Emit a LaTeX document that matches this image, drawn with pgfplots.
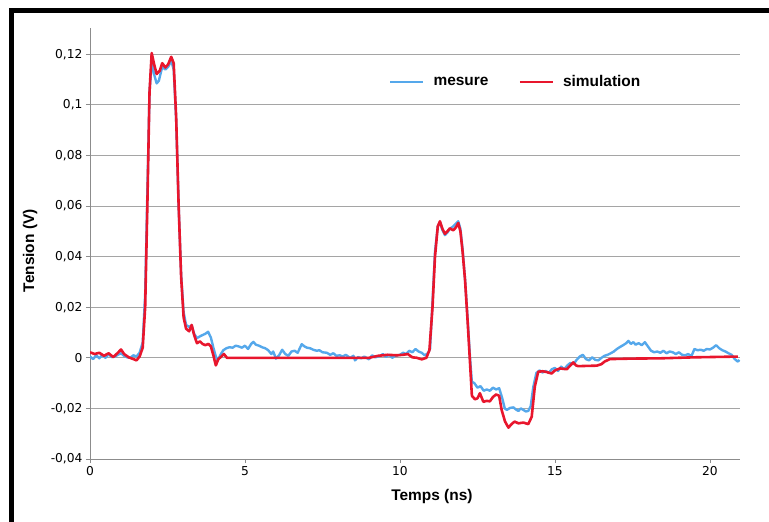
\documentclass[border=0pt]{standalone}
\usepackage{fontspec}
\setmainfont{Liberation Sans}
\newfontfamily\tickfont{DejaVu Sans}
\usepackage{pgfplots}
\pgfplotsset{compat=1.18}

\definecolor{mesblue}{RGB}{85,168,235}
\definecolor{simred}{RGB}{232,22,45}
\definecolor{axgray}{RGB}{140,140,140}
\definecolor{gridgray}{RGB}{165,165,165}

\begin{document}
\begin{tikzpicture}
\begin{axis}[
  at={(90bp,63bp)}, anchor=south west,
  width=650bp, height=431bp, scale only axis,
  xmin=0, xmax=20.97, ymin=-0.04, ymax=0.1304,
  axis lines=left,
  axis line style={axgray, line width=0.8bp, -},
  xtick={0,5,10,15,20},
  ytick={-0.04,-0.02,0,0.02,0.04,0.06,0.08,0.1,0.12},
  tick align=outside, major tick length=4bp,
  tick style={axgray, line width=0.8bp},
  ymajorgrids, grid style={gridgray, line width=0.8bp},
  /pgf/number format/assume math mode=true,
  yticklabel style={/pgf/number format/.cd, use comma, fixed, precision=2},
  ticklabel style={font=\tickfont\fontsize{12.3}{12.3}\selectfont, text=black},
  xlabel={\bfseries Temps (ns)},
  ylabel={\bfseries Tension (V)},
  label style={font=\fontsize{15.5}{16}\selectfont},
  xlabel style={at={(axis description cs:0.526,-0.086)}, anchor=center},
  ylabel style={at={(axis description cs:-0.092,0.483)}, anchor=center},
  legend columns=2,
  legend style={draw=none, fill=none, at={(axis description cs:0.655,0.875)}, anchor=center,
    font=\bfseries\fontsize{15.5}{16}\selectfont,
    /tikz/every even column/.append style={column sep=28bp}},
  legend image code/.code={\draw[#1] (0bp,0bp) -- (33bp,0bp); \path (40bp,0bp);},
]
\addplot[mesblue, line width=2.4bp, line join=round] coordinates {
(0,0.0005) (0.1,-0.0005) (0.2,0.0010) (0.3,-0.0002) (0.4,0.0012) (0.5,0.0000)
(0.6,0.0015) (0.7,0.0003) (0.8,0.0005) (0.9,0.0012) (1.0,0.0018) (1.1,0.0008)
(1.2,0.0002) (1.3,0.0000) (1.4,0.0010) (1.5,0.0005) (1.6,0.0020) (1.7,0.0060)
(1.78,0.025) (1.85,0.065) (1.92,0.105) (1.99,0.117) (2.07,0.112) (2.15,0.1085)
(2.22,0.1095) (2.33,0.1150) (2.43,0.1140) (2.52,0.1150) (2.62,0.1175) (2.70,0.1140)
(2.78,0.094) (2.86,0.06) (2.94,0.033) (3.02,0.018) (3.1,0.0130) (3.2,0.0122)
(3.28,0.0128) (3.36,0.0095) (3.45,0.0078) (3.55,0.0085) (3.63,0.0090) (3.72,0.0095)
(3.81,0.0103) (3.9,0.0080) (3.98,0.0040) (4.06,0.0005) (4.12,-0.0010) (4.2,0.0010)
(4.3,0.0030) (4.4,0.0038) (4.5,0.0042) (4.6,0.0040) (4.7,0.0048) (4.8,0.0045)
(4.9,0.0040) (5.0,0.0048) (5.1,0.0035) (5.2,0.0055) (5.27,0.0063) (5.35,0.0052)
(5.45,0.0048) (5.55,0.0042) (5.65,0.0038) (5.75,0.0030) (5.85,0.0015) (5.91,0.0025)
(6.0,-0.0003) (6.1,0.0010) (6.2,0.0032) (6.3,0.0015) (6.4,0.0008) (6.5,0.0025)
(6.6,0.0028) (6.7,0.0020) (6.83,0.0054) (6.92,0.0045) (7.0,0.0040) (7.1,0.0038)
(7.2,0.0032) (7.31,0.0028) (7.4,0.0030) (7.5,0.0022) (7.64,0.0020) (7.75,0.0012)
(7.85,0.0018) (7.95,0.0008) (8.06,0.0010) (8.15,0.0005) (8.25,0.0012) (8.39,0.0000)
(8.5,0.0008) (8.55,-0.0010) (8.65,0.0003) (8.75,-0.0002) (8.85,0.0005) (8.92,0.0000)
(9.0,-0.0006) (9.1,0.0010) (9.2,0.0002) (9.35,0.0007) (9.45,0.0015) (9.55,0.0004)
(9.65,0.0012) (9.75,0.0000) (9.85,0.0008) (10.0,0.0012) (10.1,0.0020) (10.2,0.0015)
(10.3,0.0028) (10.4,0.0022) (10.5,0.0035) (10.6,0.0025) (10.7,0.0020) (10.8,0.0010)
(10.9,0.0018) (10.97,0.0035) (11.05,0.022) (11.13,0.042) (11.22,0.052) (11.29,0.0535)
(11.37,0.0505) (11.45,0.0485) (11.53,0.0495) (11.61,0.0510) (11.72,0.0520) (11.80,0.0530)
(11.88,0.0540) (11.95,0.051) (12.02,0.043) (12.1,0.031) (12.18,0.016) (12.26,0.000)
(12.32,-0.0095) (12.4,-0.0100) (12.5,-0.0118) (12.6,-0.0112) (12.7,-0.0130) (12.8,-0.0125)
(12.9,-0.0130) (13.0,-0.0118) (13.1,-0.0125) (13.2,-0.0120) (13.3,-0.0160) (13.38,-0.0200)
(13.45,-0.0206) (13.55,-0.0198) (13.66,-0.0196) (13.75,-0.0205) (13.82,-0.0210) (13.9,-0.0200)
(13.98,-0.0206) (14.06,-0.0212) (14.14,-0.0210) (14.22,-0.0190) (14.3,-0.0116) (14.4,-0.0060)
(14.5,-0.0050) (14.6,-0.0058) (14.7,-0.0052) (14.8,-0.0060) (14.9,-0.0045) (15.0,-0.0040)
(15.1,-0.0052) (15.2,-0.0035) (15.3,-0.0045) (15.4,-0.0030) (15.5,-0.0020) (15.6,-0.0025)
(15.7,-0.0008) (15.8,0.0005) (15.9,0.0012) (16.0,-0.0005) (16.1,-0.0010) (16.2,0.0002)
(16.3,-0.0008) (16.4,-0.0010) (16.5,0.0000) (16.6,0.0008) (16.7,0.0012) (16.8,0.0018)
(16.9,0.0025) (17.0,0.0035) (17.1,0.0043) (17.2,0.0050) (17.3,0.0058) (17.37,0.0067)
(17.45,0.0055) (17.53,0.0062) (17.6,0.0052) (17.7,0.0058) (17.8,0.0050) (17.9,0.0062)
(18.0,0.0045) (18.1,0.0028) (18.2,0.0022) (18.3,0.0025) (18.4,0.0020) (18.5,0.0028)
(18.6,0.0018) (18.7,0.0025) (18.8,0.0022) (18.9,0.0015) (19.0,0.0022) (19.1,0.0012)
(19.2,0.0010) (19.3,0.0015) (19.4,0.0006) (19.5,0.0035) (19.6,0.0030) (19.7,0.0032)
(19.8,0.0028) (19.9,0.0035) (20.0,0.0033) (20.1,0.0040) (20.2,0.0050) (20.3,0.0038)
(20.4,0.0030) (20.5,0.0025) (20.6,0.0018) (20.7,0.0012) (20.8,-0.0005) (20.9,-0.0015)
(20.95,-0.0008)
};
\addlegendentry{mesure}
\addplot[simred, line width=2.6bp, line join=round] coordinates {
(0,0.0022) (0.15,0.0015) (0.3,0.0020) (0.45,0.0008) (0.6,0.0018) (0.75,0.0003)
(0.9,0.0020) (1.0,0.0033) (1.1,0.0015) (1.25,0.0002) (1.4,-0.0005) (1.5,-0.0010)
(1.6,0.0005) (1.7,0.0040) (1.78,0.02) (1.85,0.06) (1.92,0.105) (1.99,0.1205)
(2.07,0.116) (2.15,0.1122) (2.25,0.1135) (2.33,0.1165) (2.43,0.1148) (2.52,0.1160)
(2.62,0.1190) (2.70,0.1165) (2.78,0.095) (2.86,0.06) (2.94,0.032) (3.02,0.016)
(3.1,0.0115) (3.2,0.0105) (3.28,0.0130) (3.36,0.0090) (3.45,0.0058) (3.55,0.0065)
(3.63,0.0055) (3.72,0.0050) (3.82,0.0055) (3.90,0.0045) (3.98,0.0010) (4.06,-0.0030)
(4.14,-0.0005) (4.22,0.0003) (4.32,0.0015) (4.42,0.0) (9.0,0.0) (9.3,0.0008)
(9.6,0.0012) (9.9,0.0010) (10.1,0.0012) (10.25,0.0015) (10.4,0.0002) (10.55,0.0)
(10.7,-0.0006) (10.85,0.0) (10.95,0.003) (11.05,0.02) (11.13,0.04) (11.22,0.052)
(11.29,0.0540) (11.37,0.051) (11.45,0.0490) (11.53,0.0500) (11.61,0.0512) (11.72,0.0504)
(11.80,0.0515) (11.88,0.0533) (11.95,0.050) (12.02,0.042) (12.1,0.0307) (12.18,0.015)
(12.26,-0.002) (12.32,-0.0150) (12.42,-0.0164) (12.5,-0.0160) (12.58,-0.0140) (12.69,-0.0174)
(12.8,-0.0170) (12.9,-0.0172) (13.0,-0.0155) (13.1,-0.0145) (13.2,-0.0150) (13.28,-0.0206)
(13.39,-0.0252) (13.5,-0.0276) (13.6,-0.0262) (13.7,-0.0252) (13.82,-0.0259) (13.98,-0.0256)
(14.14,-0.0262) (14.25,-0.0233) (14.35,-0.0114) (14.46,-0.0055) (14.6,-0.0053) (14.73,-0.0056)
(14.89,-0.0062) (15.0,-0.0050) (15.16,-0.0042) (15.38,-0.0045) (15.5,-0.0030) (15.59,-0.0018)
(15.68,-0.0030) (15.75,-0.0033) (16.0,-0.0032) (16.35,-0.0031) (16.5,-0.0025) (16.6,-0.0015)
(16.77,-0.0005) (17.5,-0.0003) (18.4,-0.0002) (19.5,0.0002) (20.9,0.0005)
};
\addlegendentry{simulation}
\end{axis}
% frame seen at top and left edges of the reference
\fill[black] (9bp,0bp) rectangle (13.5bp,513.7bp);
\fill[black] (9bp,509.3bp) rectangle (769bp,513.7bp);
\pgfresetboundingbox
\path[use as bounding box] (0bp,0bp) rectangle (769bp,522bp);
\end{tikzpicture}
\end{document}
